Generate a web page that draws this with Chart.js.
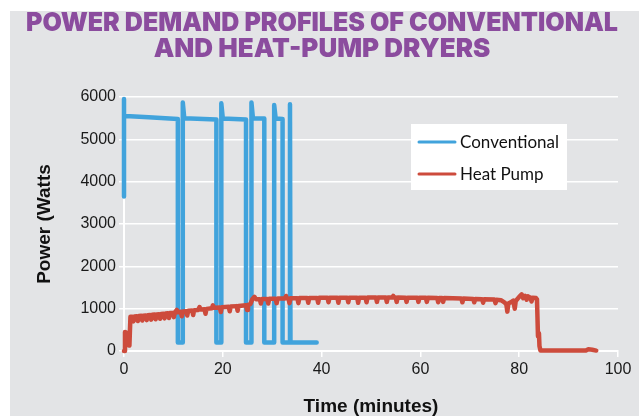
<!DOCTYPE html>
<html>
<head>
<meta charset="utf-8">
<script src="https://cdn.jsdelivr.net/npm/chart.js@4.4.1/dist/chart.umd.min.js"></script>
<style>
  html, body { margin: 0; padding: 0; background: #fff; }
  #panel { position: absolute; left: 10px; top: 11px; width: 629px; height: 405px; background: #e3e4e6; }
  canvas { display: block; }
</style>
</head>
<body>
<div id="panel"><canvas id="chart" width="629" height="405"></canvas></div>
<script>
// conventional dryer: time (min) and power (W)
const convTime = [0, 0, 0, 0.3, 5, 10.9, 10.9, 11.9, 11.9, 12.2, 18.7, 18.7, 19.7, 19.7, 20.0, 24.7, 24.7, 25.8, 25.8, 26.1, 28.4, 28.4, 30.4, 30.4, 30.7, 32.1, 32.1, 33.6, 33.6, 33.7, 39.0];
const convPower = [3650, 5950, 5550, 5550, 5520, 5480, 200, 200, 5870, 5500, 5470, 200, 200, 5850, 5490, 5470, 200, 200, 5870, 5500, 5490, 200, 200, 5810, 5490, 5480, 200, 200, 5830, 200, 200];

// heat pump dryer: time (min) and power (W)
const hpTime = [0, 0.2, 0.5, 0.6, 1.1, 1.3, 1.7, 1.9, 2.1, 2.6, 2.8, 3.0, 3.5, 3.7, 3.9, 4.4, 4.6, 4.8, 5.3, 5.5, 5.7, 6.2, 6.4, 6.6, 7.1, 7.3, 7.5, 8.0, 8.2, 8.4, 8.9, 9.1, 9.3, 9.9, 10.1, 10.3, 10.7, 10.9, 11.5, 11.7, 11.9, 12.6, 12.8, 13.0, 13.8, 14.0, 14.2, 15.0, 15.3, 15.5, 16.3, 16.5, 16.7, 17.8, 18.0, 18.2, 19.4, 19.6, 19.8, 21.2, 21.4, 21.6, 22.8, 23.0, 23.2, 24.7, 24.9, 25.1, 25.6, 26.0, 26.4, 26.7, 27.5, 27.7, 27.9, 29.0, 29.2, 29.4, 30.7, 30.9, 31.1, 32.6, 32.8, 33.0, 33.3, 33.5, 33.7, 35.1, 35.3, 35.5, 37.1, 37.3, 37.5, 39.1, 39.3, 39.5, 41.2, 41.4, 41.6, 43.2, 43.4, 43.6, 45.2, 45.4, 45.6, 47.2, 47.4, 47.6, 48.9, 49.1, 49.3, 51.0, 51.2, 51.4, 53.0, 53.2, 53.4, 54.3, 54.5, 54.7, 55.0, 55.2, 55.4, 57.0, 57.2, 57.4, 59.4, 59.6, 59.8, 61.1, 61.3, 61.5, 63.4, 63.6, 63.8, 64.4, 64.6, 64.8, 68.3, 68.5, 68.7, 70.7, 70.9, 71.1, 72.5, 72.7, 72.9, 75.0, 75.2, 75.4, 76.3, 77.0, 77.4, 77.6, 77.8, 78.3, 78.8, 79.1, 79.3, 80.0, 80.5, 80.8, 81.2, 81.5, 81.8, 82.3, 82.5, 82.7, 83.4, 83.6, 83.8, 84.0, 84.1, 84.3, 93.5, 94.0, 94.8, 95.6];
const hpPower = [0, 450, 430, 150, 130, 810, 810, 700, 815, 820, 710, 825, 830, 720, 835, 840, 730, 845, 850, 740, 855, 860, 750, 865, 870, 760, 875, 880, 770, 885, 890, 780, 895, 900, 800, 910, 970, 915, 925, 820, 935, 940, 840, 950, 955, 850, 965, 970, 1040, 980, 985, 880, 995, 1010, 1080, 1020, 1025, 920, 1035, 1045, 940, 1050, 1060, 950, 1065, 1080, 970, 1090, 1110, 1230, 1280, 1225, 1225, 1120, 1230, 1230, 1120, 1235, 1235, 1130, 1240, 1240, 1300, 1240, 1240, 1130, 1245, 1245, 1130, 1250, 1250, 1140, 1250, 1250, 1140, 1255, 1255, 1150, 1255, 1255, 1140, 1260, 1260, 1150, 1260, 1260, 1140, 1260, 1260, 1150, 1265, 1265, 1160, 1265, 1265, 1160, 1265, 1265, 1300, 1265, 1265, 1160, 1265, 1260, 1160, 1260, 1260, 1160, 1260, 1255, 1160, 1255, 1250, 1150, 1250, 1250, 1160, 1250, 1240, 1150, 1240, 1230, 1150, 1230, 1225, 1140, 1225, 1215, 1130, 1210, 1200, 1150, 1100, 930, 1120, 1150, 1190, 1000, 1180, 1280, 1340, 1250, 1300, 1210, 1290, 1260, 1170, 1260, 1250, 1220, 350, 420, 120, 10, 10, 40, 30, 10];

const seriesNames = ['Conventional', 'Heat Pump'];
const xTicks = [0, 20, 40, 60, 80, 100];
const yTicks = [0, 1000, 2000, 3000, 4000, 5000, 6000];

const blue = '#41a3dc';
const red = '#cd4b3c';

const toPoints = (xs, ys) => xs.map((x, i) => ({ x: x, y: ys[i] }));

// legend box drawn inside the plot, like the original
const boxLegend = {
    id: 'boxLegend',
    afterDraw(chart) {
        const ctx = chart.ctx;
        const x = 401, y = 113, w = 156, h = 66;
        ctx.save();
        ctx.fillStyle = '#ffffff';
        ctx.fillRect(x, y, w, h);
        chart.data.datasets.forEach((ds, i) => {
            const cy = y + 18 + i * 32;
            ctx.strokeStyle = ds.borderColor;
            ctx.lineWidth = 3;
            ctx.lineCap = 'round';
            ctx.beginPath();
            ctx.moveTo(x + 8, cy);
            ctx.lineTo(x + 44, cy);
            ctx.stroke();
            ctx.fillStyle = '#111';
            ctx.font = '17px Lato';
            ctx.textBaseline = 'middle';
            ctx.fillText(ds.label, x + 49, cy + 1);
        });
        ctx.restore();
    }
};

new Chart(document.getElementById('chart'), {
    type: 'line',
    data: {
        datasets: [
            {
                label: seriesNames[0],
                data: toPoints(convTime, convPower),
                borderColor: blue,
                borderWidth: 4.5,
                pointRadius: 0,
                tension: 0,
                borderJoinStyle: 'round',
                borderCapStyle: 'round',
                clip: false,
                order: 1
            },
            {
                label: seriesNames[1],
                data: toPoints(hpTime, hpPower),
                borderColor: red,
                borderWidth: 4.5,
                pointRadius: 0,
                tension: 0,
                borderJoinStyle: 'round',
                borderCapStyle: 'round',
                clip: false,
                order: 0
            }
        ]
    },
    options: {
        responsive: false,
        animation: false,
        devicePixelRatio: 1,
        layout: { padding: { left: 16, right: 21, top: 0, bottom: 0 } },
        plugins: {
            legend: { display: false },
            tooltip: { enabled: false },
            title: {
                display: true,
                text: ['POWER DEMAND PROFILES OF CONVENTIONAL', 'AND HEAT-PUMP DRYERS'],
                color: '#8b4c9e',
                font: { family: 'Inter', size: 26, weight: '900', lineHeight: 1 },
                padding: { top: -1, bottom: 35 }
            }
        },
        scales: {
            x: {
                type: 'linear',
                min: xTicks[0],
                max: xTicks[xTicks.length - 1],
                afterBuildTicks: (scale) => { scale.ticks = xTicks.map(v => ({ value: v })); },
                afterFit: (scale) => { scale.height = 65; },
                ticks: { color: '#1a1a1a', font: { family: 'Liberation Sans', size: 16 }, padding: 3, maxRotation: 0, callback: (v) => String(v) },
                grid: { drawOnChartArea: false, drawTicks: true, tickLength: 6, color: '#ffffff', lineWidth: 1.5 },
                border: { display: true, color: '#ffffff', width: 2 },
                title: {
                    display: true,
                    text: 'Time (minutes)',
                    color: '#111',
                    font: { family: 'Liberation Sans', size: 19, weight: 'bold', lineHeight: 1 },
                    padding: { top: 0, bottom: 0 }
                }
            },
            y: {
                type: 'linear',
                min: yTicks[0],
                max: yTicks[yTicks.length - 1],
                afterBuildTicks: (scale) => { scale.ticks = yTicks.map(v => ({ value: v })); },
                afterFit: (scale) => { scale.width = 98; },
                ticks: { color: '#1a1a1a', font: { family: 'Liberation Sans', size: 16 }, padding: 3, callback: (v) => String(v) },
                grid: { color: '#ffffff', lineWidth: 1.5, tickLength: 5 },
                border: { display: true, color: '#ffffff', width: 2 },
                title: {
                    display: true,
                    text: 'Power (Watts',
                    color: '#111',
                    font: { family: 'Liberation Sans', size: 19, weight: 'bold', lineHeight: 1 },
                    padding: { top: 9, bottom: 0 }
                }
            }
        }
    },
    plugins: [boxLegend]
});
</script>
</body>
</html>
